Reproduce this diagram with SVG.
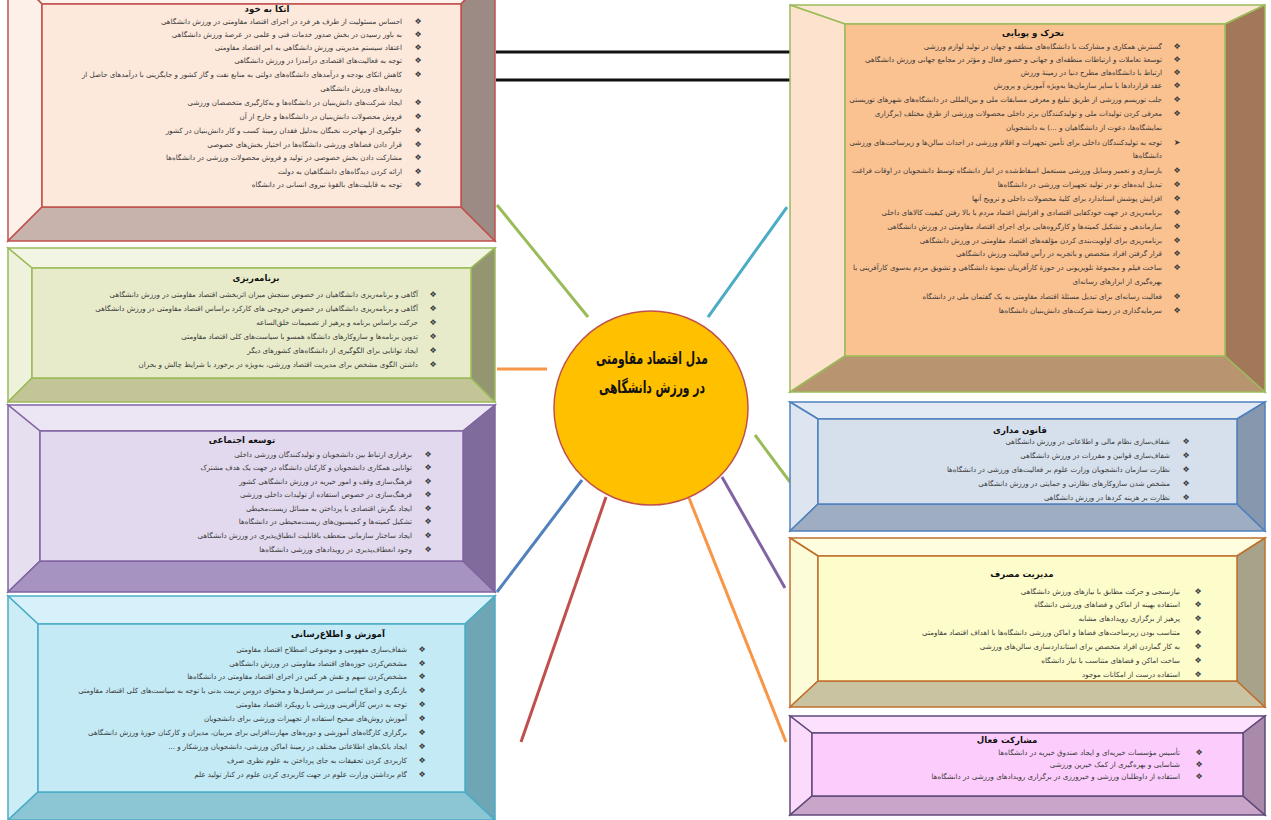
<svg xmlns="http://www.w3.org/2000/svg" width="1271" height="820" viewBox="0 0 1271 820">
<style>
.t{font-family:"DejaVu Sans",sans-serif;font-size:7.1px;fill:#3a3a3a;direction:rtl;text-anchor:start}
.b{font-family:"DejaVu Sans",sans-serif;font-size:8px;fill:#3a3a3a;text-anchor:middle}
.h{font-family:"DejaVu Sans",sans-serif;font-size:8.6px;font-weight:bold;fill:#111;text-anchor:middle}
.c{font-family:"DejaVu Sans",sans-serif;font-size:17px;font-weight:bold;fill:#111;text-anchor:middle}
.cn{fill:none;stroke-width:3;stroke-linecap:butt}
</style>
<rect width="1271" height="820" fill="#ffffff"/>
<g id="connectors">
<line class="cn" x1="496" y1="52" x2="790" y2="52" stroke="#111" stroke-width="2"/>
<line class="cn" x1="496" y1="80" x2="790" y2="80" stroke="#111" stroke-width="2"/>
<line class="cn" x1="497" y1="205" x2="588" y2="317" stroke="#9bbb59"/>
<line class="cn" x1="787" y1="207" x2="708" y2="317" stroke="#4bacc6"/>
<line class="cn" x1="497" y1="369" x2="547" y2="369" stroke="#f79646"/>
<line class="cn" x1="755" y1="435" x2="790" y2="482" stroke="#9bbb59"/>
<line class="cn" x1="722" y1="477" x2="785" y2="588" stroke="#8064a2"/>
<line class="cn" x1="689" y1="498" x2="786" y2="742" stroke="#f79646"/>
<line class="cn" x1="582" y1="480" x2="497" y2="592" stroke="#4f81bd"/>
<line class="cn" x1="606" y1="497" x2="521" y2="742" stroke="#c0504d"/>
</g>
<g id="center">
<circle cx="651" cy="408" r="97" fill="#ffc000" stroke="#c0504d" stroke-width="1.5"/>
<text class="c" x="652" y="364" textLength="112" lengthAdjust="spacingAndGlyphs">مدل اقتصاد مقاومتی</text>
<text class="c" x="652" y="393" textLength="106" lengthAdjust="spacingAndGlyphs">در ورزش دانشگاهی</text>
</g>
<g id="box-etka" stroke="#c0504d" stroke-width="1.5">
<polygon points="8,-30 495,-30 461,4 42,4" fill="#fdf3ec"/>
<polygon points="8,-30 42,4 42,207 8,241" fill="#fdf0e8"/>
<polygon points="8,241 42,207 461,207 495,241" fill="#c7b3ac"/>
<polygon points="495,-30 495,241 461,207 461,4" fill="#9c8b85"/>
<rect x="42" y="4" width="419" height="203" fill="#fde9dc"/>
<g stroke="none">
<text class="h" x="267" y="12">اتکا به خود</text>
<text class="t" x="402" y="24">احساس مسئولیت از طرف هر فرد در اجرای اقتصاد مقاومتی در ورزش دانشگاهی</text>
<text class="t" x="402" y="37">به باور رسیدن در بخش صدور خدمات فنی و علمی در عرصهٔ ورزش دانشگاهی</text>
<text class="t" x="402" y="50">اعتقاد سیستم مدیریتی ورزش دانشگاهی به امر اقتصاد مقاومتی</text>
<text class="t" x="402" y="63">توجه به فعالیت‌های اقتصادی درآمدزا در ورزش دانشگاهی</text>
<text class="t" x="402" y="77">کاهش اتکای بودجه و درآمدهای دانشگاه‌های دولتی به منابع نفت و گاز کشور و جایگزینی با درآمدهای حاصل از</text>
<text class="t" x="402" y="91">رویدادهای ورزش دانشگاهی</text>
<text class="t" x="402" y="105">ایجاد شرکت‌های دانش‌بنیان در دانشگاه‌ها و به‌کارگیری متخصصان ورزشی</text>
<text class="t" x="402" y="119">فروش محصولات دانش‌بنیان در دانشگاه‌ها و خارج از آن</text>
<text class="t" x="402" y="133">جلوگیری از مهاجرت نخبگان به‌دلیل فقدان زمینهٔ کسب و کار دانش‌بنیان در کشور</text>
<text class="t" x="402" y="147">قرار دادن فضاهای ورزشی دانشگاه‌ها در اختیار بخش‌های خصوصی</text>
<text class="t" x="402" y="160">مشارکت دادن بخش خصوصی در تولید و فروش محصولات ورزشی در دانشگاه‌ها</text>
<text class="t" x="402" y="174">ارائه کردن دیدگاه‌های دانشگاهیان به دولت</text>
<text class="t" x="402" y="187">توجه به قابلیت‌های بالقوهٔ نیروی انسانی در دانشگاه</text>
<text class="b" x="418" y="24">❖</text><text class="b" x="418" y="37">❖</text><text class="b" x="418" y="50">❖</text><text class="b" x="418" y="63">❖</text><text class="b" x="418" y="77">❖</text><text class="b" x="418" y="105">❖</text><text class="b" x="418" y="119">❖</text><text class="b" x="418" y="133">❖</text><text class="b" x="418" y="147">❖</text><text class="b" x="418" y="160">❖</text><text class="b" x="418" y="174">❖</text><text class="b" x="418" y="187">❖</text>
</g>
</g>
<g id="box-planning" stroke="#9bbb59" stroke-width="1.5">
<polygon points="8,248 495,248 471,268 32,268" fill="#f3f5e4"/>
<polygon points="8,248 32,268 32,378 8,402" fill="#eef1dc"/>
<polygon points="8,402 32,378 471,378 495,402" fill="#c3c596"/>
<polygon points="495,248 495,402 471,378 471,268" fill="#949672"/>
<rect x="32" y="268" width="439" height="110" fill="#e8ebca"/>
<g stroke="none">
<text class="h" x="256" y="281">برنامه‌ریزی</text>
<text class="t" x="418" y="297">آگاهی و برنامه‌ریزی دانشگاهیان در خصوص سنجش میزان اثربخشی اقتصاد مقاومتی در ورزش دانشگاهی</text>
<text class="t" x="418" y="311">آگاهی و برنامه‌ریزی دانشگاهیان در خصوص خروجی های کارکرد براساس اقتصاد مقاومتی در ورزش دانشگاهی</text>
<text class="t" x="418" y="325">حرکت براساس برنامه و پرهیز از تصمیمات خلق‌الساعه</text>
<text class="t" x="418" y="339">تدوین برنامه‌ها و سازوکارهای دانشگاه همسو با سیاست‌های کلی اقتصاد مقاومتی</text>
<text class="t" x="418" y="353">ایجاد توانایی برای الگوگیری از دانشگاه‌های کشورهای دیگر</text>
<text class="t" x="418" y="367">داشتن الگوی مشخص برای مدیریت اقتصاد ورزشی، به‌ویژه در برخورد با شرایط چالش و بحران</text>
<text class="b" x="433" y="297">❖</text><text class="b" x="433" y="311">❖</text><text class="b" x="433" y="325">❖</text><text class="b" x="433" y="339">❖</text><text class="b" x="433" y="353">❖</text><text class="b" x="433" y="367">❖</text>
</g>
</g>
<g id="box-social" stroke="#8064a2" stroke-width="1.5">
<polygon points="8,405 495,405 463,431 40,431" fill="#ece6f4"/>
<polygon points="8,405 40,431 40,561 8,592" fill="#e6dff0"/>
<polygon points="8,592 40,561 463,561 495,592" fill="#a793c1"/>
<polygon points="495,405 495,592 463,561 463,431" fill="#7f6b9c"/>
<rect x="40" y="431" width="423" height="130" fill="#e2d9ee"/>
<g stroke="none">
<text class="h" x="242" y="443">توسعه اجتماعی</text>
<text class="t" x="412" y="457">برقراری ارتباط بین دانشجویان و تولیدکنندگان ورزشی داخلی</text>
<text class="t" x="412" y="470">توانایی همکاری دانشجویان و کارکنان دانشگاه در جهت یک هدف مشترک</text>
<text class="t" x="412" y="484">فرهنگ‌سازی وقف و امور خیریه در ورزش دانشگاهی کشور</text>
<text class="t" x="412" y="497">فرهنگ‌سازی در خصوص استفاده از تولیدات داخلی ورزشی</text>
<text class="t" x="412" y="511">ایجاد نگرش اقتصادی با پرداختن به مسائل زیست‌محیطی</text>
<text class="t" x="412" y="524">تشکیل کمیته‌ها و کمیسیون‌های زیست‌محیطی در دانشگاه‌ها</text>
<text class="t" x="412" y="538">ایجاد ساختار سازمانی منعطف باقابلیت انطباق‌پذیری در ورزش دانشگاهی</text>
<text class="t" x="412" y="552">وجود انعطاف‌پذیری در رویدادهای ورزشی دانشگاه‌ها</text>
<text class="b" x="428" y="457">❖</text><text class="b" x="428" y="470">❖</text><text class="b" x="428" y="484">❖</text><text class="b" x="428" y="497">❖</text><text class="b" x="428" y="511">❖</text><text class="b" x="428" y="524">❖</text><text class="b" x="428" y="538">❖</text><text class="b" x="428" y="552">❖</text>
</g>
</g>
<g id="box-education" stroke="#4bacc6" stroke-width="1.5">
<polygon points="8,596 495,596 465,624 38,624" fill="#d6f1f9"/>
<polygon points="8,596 38,624 38,792 8,820" fill="#cdedf6"/>
<polygon points="8,820 38,792 465,792 495,820" fill="#8cc5d4"/>
<polygon points="495,596 495,820 465,792 465,624" fill="#6ea6b5"/>
<rect x="38" y="624" width="427" height="168" fill="#c4eaf5"/>
<g stroke="none">
<text class="h" x="338" y="637">آموزش و اطلاع‌رسانی</text>
<text class="t" x="407" y="652">شفاف‌سازی مفهومی و موضوعی اصطلاح اقتصاد مقاومتی</text>
<text class="t" x="407" y="666">مشخص‌کردن حوزه‌های اقتصاد مقاومتی در ورزش دانشگاهی</text>
<text class="t" x="407" y="679">مشخص‌کردن سهم و نقش هر کس در اجرای اقتصاد مقاومتی در دانشگاه‌ها</text>
<text class="t" x="407" y="693">بازنگری و اصلاح اساسی در سرفصل‌ها و محتوای دروس تربیت بدنی با توجه به سیاست‌های کلی اقتصاد مقاومتی</text>
<text class="t" x="407" y="707">توجه به درس کارآفرینی ورزشی با رویکرد اقتصاد مقاومتی</text>
<text class="t" x="407" y="721">آموزش روش‌های صحیح استفاده از تجهیزات ورزشی برای دانشجویان</text>
<text class="t" x="407" y="735">برگزاری کارگاه‌های آموزشی و دوره‌های مهارت‌افزایی برای مربیان، مدیران و کارکنان حوزهٔ ورزش دانشگاهی</text>
<text class="t" x="407" y="749">ایجاد بانک‌های اطلاعاتی مختلف در زمینهٔ اماکن ورزشی، دانشجویان ورزشکار و ...</text>
<text class="t" x="407" y="763">کاربردی کردن تحقیقات به جای پرداختن به علوم نظری صرف</text>
<text class="t" x="407" y="777">گام برداشتن وزارت علوم در جهت کاربردی کردن علوم در کنار تولید علم</text>
<text class="b" x="422" y="652">❖</text><text class="b" x="422" y="666">❖</text><text class="b" x="422" y="679">❖</text><text class="b" x="422" y="693">❖</text><text class="b" x="422" y="707">❖</text><text class="b" x="422" y="721">❖</text><text class="b" x="422" y="735">❖</text><text class="b" x="422" y="749">❖</text><text class="b" x="422" y="763">❖</text><text class="b" x="422" y="777">❖</text>
</g>
</g>
<g id="box-dynamism" stroke="#9bbb59" stroke-width="1.5">
<polygon points="790,5 1265,5 1225,24 845,24" fill="#fde6d3"/>
<polygon points="790,5 845,24 845,356 790,392" fill="#fde2cd"/>
<polygon points="790,392 845,356 1225,356 1265,392" fill="#b89470"/>
<polygon points="1265,5 1265,392 1225,356 1225,24" fill="#a27859"/>
<rect x="845" y="24" width="380" height="332" fill="#fac191"/>
<g stroke="none">
<text class="h" x="1033" y="36">تحرک و پویایی</text>
<text class="t" x="1162" y="49">گسترش همکاری و مشارکت با دانشگاه‌های منطقه و جهان در تولید لوازم ورزشی</text>
<text class="t" x="1162" y="62">توسعهٔ تعاملات و ارتباطات منطقه‌ای و جهانی و حضور فعال و مؤثر در مجامع جهانی ورزش دانشگاهی</text>
<text class="t" x="1162" y="75">ارتباط با دانشگاه‌های مطرح دنیا در زمینهٔ ورزش</text>
<text class="t" x="1162" y="88">عقد قراردادها با سایر سازمان‌ها به‌ویژه آموزش و پرورش</text>
<text class="t" x="1162" y="102">جلب توریسم ورزشی از طریق تبلیغ و معرفی مسابقات ملی و بین‌المللی در دانشگاه‌های شهرهای توریستی</text>
<text class="t" x="1162" y="116">معرفی کردن تولیدات ملی و تولیدکنندگان برتر داخلی محصولات ورزشی از طرق مختلف (برگزاری</text>
<text class="t" x="1162" y="130">نمایشگاه‌ها، دعوت از دانشگاهیان و ...) به دانشجویان</text>
<text class="t" x="1162" y="145">توجه به تولیدکنندگان داخلی برای تأمین تجهیزات و اقلام ورزشی در احداث سالن‌ها و زیرساخت‌های ورزشی</text>
<text class="t" x="1162" y="158">دانشگاه‌ها</text>
<text class="t" x="1162" y="173">بازسازی و تعمیر وسایل ورزشی مستعمل اسقاط‌شده در انبار دانشگاه توسط دانشجویان در اوقات فراغت</text>
<text class="t" x="1162" y="187">تبدیل ایده‌های نو در تولید تجهیزات ورزشی در دانشگاه‌ها</text>
<text class="t" x="1162" y="201">افزایش پوشش استاندارد برای کلیهٔ محصولات داخلی و ترویج آنها</text>
<text class="t" x="1162" y="215">برنامه‌ریزی در جهت خودکفایی اقتصادی و افزایش اعتماد مردم با بالا رفتن کیفیت کالاهای داخلی</text>
<text class="t" x="1162" y="229">سازماندهی و تشکیل کمیته‌ها و کارگروه‌هایی برای اجرای اقتصاد مقاومتی در ورزش دانشگاهی</text>
<text class="t" x="1162" y="243">برنامه‌ریزی برای اولویت‌بندی کردن مؤلفه‌های اقتصاد مقاومتی در ورزش دانشگاهی</text>
<text class="t" x="1162" y="256">قرار گرفتن افراد متخصص و باتجربه در رأس فعالیت ورزش دانشگاهی</text>
<text class="t" x="1162" y="270">ساخت فیلم و مجموعهٔ تلویزیونی در حوزهٔ کارآفرینان نمونهٔ دانشگاهی و تشویق مردم به‌سوی کارآفرینی با</text>
<text class="t" x="1162" y="284">بهره‌گیری از ابزارهای رسانه‌ای</text>
<text class="t" x="1162" y="299">فعالیت رسانه‌ای برای تبدیل مسئلهٔ اقتصاد مقاومتی به یک گفتمان ملی در دانشگاه</text>
<text class="t" x="1162" y="313">سرمایه‌گذاری در زمینهٔ شرکت‌های دانش‌بنیان دانشگاه‌ها</text>
<text class="b" x="1177" y="49">❖</text><text class="b" x="1177" y="62">❖</text><text class="b" x="1177" y="75">❖</text><text class="b" x="1177" y="88">❖</text><text class="b" x="1177" y="102">❖</text><text class="b" x="1177" y="116">❖</text><text class="b" x="1177" y="145">➤</text><text class="b" x="1177" y="173">❖</text><text class="b" x="1177" y="187">❖</text><text class="b" x="1177" y="201">❖</text><text class="b" x="1177" y="215">❖</text><text class="b" x="1177" y="229">❖</text><text class="b" x="1177" y="243">❖</text><text class="b" x="1177" y="256">❖</text><text class="b" x="1177" y="270">❖</text><text class="b" x="1177" y="299">❖</text><text class="b" x="1177" y="313">❖</text>
</g>
</g>
<g id="box-law" stroke="#4f81bd" stroke-width="1.5">
<polygon points="790,402 1265,402 1237,419 818,419" fill="#e3eaf4"/>
<polygon points="790,402 818,419 818,504 790,531" fill="#dde5f0"/>
<polygon points="790,531 818,504 1237,504 1265,531" fill="#9eadc2"/>
<polygon points="1265,402 1265,531 1237,504 1237,419" fill="#8797ae"/>
<rect x="818" y="419" width="419" height="85" fill="#d6e0ed"/>
<g stroke="none">
<text class="h" x="1020" y="433">قانون مداری</text>
<text class="t" x="1170" y="444">شفاف‌سازی نظام مالی و اطلاعاتی در ورزش دانشگاهی</text>
<text class="t" x="1170" y="458">شفاف‌سازی قوانین و مقررات در ورزش دانشگاهی</text>
<text class="t" x="1170" y="472">نظارت سازمان دانشجویان وزارت علوم بر فعالیت‌های ورزشی در دانشگاه‌ها</text>
<text class="t" x="1170" y="486">مشخص شدن سازوکارهای نظارتی و حمایتی در ورزش دانشگاهی</text>
<text class="t" x="1170" y="500">نظارت بر هزینه کردها در ورزش دانشگاهی</text>
<text class="b" x="1186" y="444">❖</text><text class="b" x="1186" y="458">❖</text><text class="b" x="1186" y="472">❖</text><text class="b" x="1186" y="486">❖</text><text class="b" x="1186" y="500">❖</text>
</g>
</g>
<g id="box-consumption" stroke="#c0702e" stroke-width="1.5">
<polygon points="790,538 1265,538 1237,556 818,556" fill="#fefde0"/>
<polygon points="790,538 818,556 818,681 790,707" fill="#fdfcd8"/>
<polygon points="790,707 818,681 1237,681 1265,707" fill="#c9c3a2"/>
<polygon points="1265,538 1265,707 1237,681 1237,556" fill="#a7a38b"/>
<rect x="818" y="556" width="419" height="125" fill="#fdfccb"/>
<g stroke="none">
<text class="h" x="1022" y="577">مدیریت مصرف</text>
<text class="t" x="1180" y="594">نیازسنجی و حرکت مطابق با نیازهای ورزش دانشگاهی</text>
<text class="t" x="1180" y="607">استفاده بهینه از اماکن و فضاهای ورزشی دانشگاه</text>
<text class="t" x="1180" y="621">پرهیز از برگزاری رویدادهای مشابه</text>
<text class="t" x="1180" y="635">متناسب بودن زیرساخت‌های فضاها و اماکن ورزشی دانشگاه‌ها با اهداف اقتصاد مقاومتی</text>
<text class="t" x="1180" y="649">به کار گماردن افراد متخصص برای استانداردسازی سالن‌های ورزشی</text>
<text class="t" x="1180" y="663">ساخت اماکن و فضاهای متناسب با نیاز دانشگاه</text>
<text class="t" x="1180" y="677">استفاده درست از امکانات موجود</text>
<text class="b" x="1198" y="594">❖</text><text class="b" x="1198" y="607">❖</text><text class="b" x="1198" y="621">❖</text><text class="b" x="1198" y="635">❖</text><text class="b" x="1198" y="649">❖</text><text class="b" x="1198" y="663">❖</text><text class="b" x="1198" y="677">❖</text>
</g>
</g>
<g id="box-participation" stroke="#5f497a" stroke-width="1.5">
<polygon points="790,716 1265,716 1243,733 812,733" fill="#fde0fd"/>
<polygon points="790,716 812,733 812,796 790,815" fill="#fcdafc"/>
<polygon points="790,815 812,796 1243,796 1265,815" fill="#c9a6c9"/>
<polygon points="1265,716 1265,815 1243,796 1243,733" fill="#aa8aaa"/>
<rect x="812" y="733" width="431" height="63" fill="#fccdfc"/>
<g stroke="none">
<text class="h" x="1007" y="743">مشارکت فعال</text>
<text class="t" x="1180" y="755">تأسیس مؤسسات خیریه‌ای و ایجاد صندوق خیریه در دانشگاه‌ها</text>
<text class="t" x="1180" y="767">شناسایی و بهره‌گیری از کمک خیرین ورزشی</text>
<text class="t" x="1180" y="779">استفاده از داوطلبان ورزشی و خیرورزی در برگزاری رویدادهای ورزشی در دانشگاه‌ها</text>
<text class="b" x="1199" y="755">❖</text><text class="b" x="1199" y="767">❖</text><text class="b" x="1199" y="779">❖</text>
</g>
</g>
</svg>
